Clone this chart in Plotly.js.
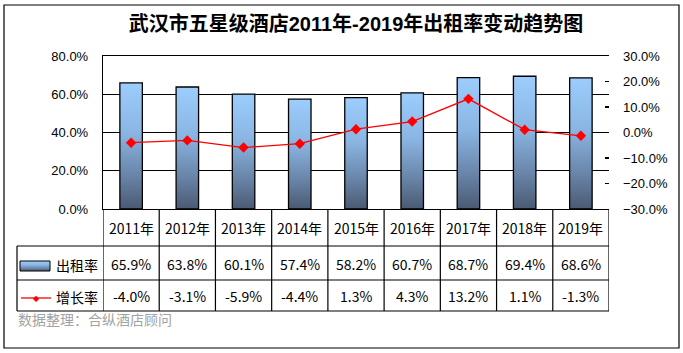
<!DOCTYPE html>
<html><head><meta charset="utf-8">
<script src="https://cdn.plot.ly/plotly-3.0.1.min.js"></script>
<style>body{margin:0;background:#fff}#c{width:683px;height:353px}</style>
</head><body><div id="c"></div>
<script>
const categories = ['2011年','2012年','2013年','2014年','2015年','2016年','2017年','2018年','2019年'];
const occupancy = [65.9, 63.8, 60.1, 57.4, 58.2, 60.7, 68.7, 69.4, 68.6];
const growth = [-4.0, -3.1, -5.9, -4.4, 1.3, 4.3, 13.2, 1.1, -1.3];
const occLabels = ['65.9%','63.8%','60.1%','57.4%','58.2%','60.7%','68.7%','69.4%','68.6%'];
const growthLabels = ['-4.0%','-3.1%','-5.9%','-4.4%','1.3%','4.3%','13.2%','1.1%','-1.3%'];
const seriesNames = ['出租率','增长率'];
const titleText = '武汉市五星级酒店<b style="font-family:Liberation Sans">2011</b>年<b style="font-family:Liberation Sans">-2019</b>年出租率变动趋势图';
const sourceText = '数据整理：合纵酒店顾问';

const idx = categories.map((_, i) => i);
const F = '"Noto Sans CJK SC", "Noto Sans", sans-serif';
const plotH = 153;
const py = px => (209 - px) / plotH;      // pixel y -> paper
const pxX = px => (px - 103) / 506;        // pixel x -> paper

const shapes = [];
shapes.push({type:'rect', xref:'paper', yref:'paper', x0:pxX(4), x1:pxX(679), y0:py(348), y1:py(5), line:{color:'#000', width:1.2}, layer:'below'});
[246, 280, 311].forEach(y => shapes.push({type:'line', xref:'paper', yref:'paper', x0:pxX(17), x1:1, y0:py(y), y1:py(y), line:{color:'#000', width:1.2}}));
shapes.push({type:'line', xref:'paper', yref:'paper', x0:pxX(17), x1:pxX(17), y0:py(246), y1:py(311), line:{color:'#000', width:1.2}});
for (let i = 0; i <= categories.length; i++) {
  shapes.push({type:'line', xref:'x', yref:'paper', x0:i-0.5, x1:i-0.5, y0:0, y1:py(311), line:{color:'#000', width:1.2}});
}
shapes.push({type:'rect', xref:'paper', yref:'paper', x0:pxX(20), x1:pxX(50), y0:py(271), y1:py(261), line:{color:'#000', width:1}, fillcolor:'#7090b8'});
shapes.push({type:'line', xref:'paper', yref:'paper', x0:pxX(21), x1:pxX(51), y0:py(298), y1:py(298), line:{color:'#ff0000', width:1.3}});

const annotations = [];
const ann = (o) => annotations.push(Object.assign({showarrow:false, yanchor:'middle', xanchor:'center'}, o));
categories.forEach((c, i) => {
  ann({x:i, y:py(228), xref:'x', yref:'paper', text:c, font:{family:F, size:14, color:'#000'}});
  ann({x:i, y:py(264), xref:'x', yref:'paper', text:occLabels[i], font:{family:F, size:14, color:'#000'}});
  ann({x:i, y:py(296), xref:'x', yref:'paper', text:growthLabels[i], font:{family:F, size:14, color:'#000'}});
});
ann({x:pxX(54), y:py(265), xref:'paper', yref:'paper', xanchor:'left', text:seriesNames[0], font:{family:F, size:14, color:'#000'}});
ann({x:pxX(54), y:py(297), xref:'paper', yref:'paper', xanchor:'left', text:seriesNames[1], font:{family:F, size:14, color:'#000'}});
ann({x:pxX(36), y:py(298), xref:'paper', yref:'paper', text:'◆', font:{family:'DejaVu Sans', size:8, color:'#ff0000'}});
ann({x:pxX(16), y:py(319), xref:'paper', yref:'paper', xanchor:'left', text:sourceText, font:{family:F, size:14, color:'#a3a3a3'}});

const data = [
  {type:'bar', x:idx, y:occupancy, name:seriesNames[0], width:0.4,
   marker:{color:'#7a9cc6', line:{color:'#000', width:1.3}}, hoverinfo:'skip'},
  {type:'scatter', mode:'lines+markers', x:idx, y:growth, yaxis:'y2', name:seriesNames[1],
   line:{color:'#ff0000', width:1.3}, marker:{symbol:'diamond', size:8, color:'#ff0000'}, hoverinfo:'skip'}
];

const layout = {
  width:683, height:353,
  margin:{l:103, r:74, t:56, b:144},
  paper_bgcolor:'#fff', plot_bgcolor:'#fff',
  showlegend:false,
  title:{text:titleText, x:0.5, xref:'paper', xanchor:'center', y:1-24/353, yanchor:'middle',
         font:{family:F, size:20, color:'#000', weight:'bold'}},
  xaxis:{range:[-0.5, 8.5], showticklabels:false, showgrid:false, zeroline:false,
         showline:true, linecolor:'#000', linewidth:1.2, mirror:true, ticks:'', fixedrange:true},
  yaxis:{range:[0, 80], dtick:20, tickformat:'.1f', ticksuffix:'%', showgrid:true, gridcolor:'#000', gridwidth:1.2,
         zeroline:false, showline:true, linecolor:'#000', linewidth:1.2, ticks:'', ticklabelstandoff:11,
         tickfont:{family:'Liberation Sans, Arial, sans-serif', size:13, color:'#000'}},
  yaxis2:{range:[-30, 30], dtick:10, tickformat:'.1f', ticksuffix:'%', overlaying:'y', side:'right',
          showgrid:false, zeroline:false, showline:false, ticks:'inside', ticklen:4, tickcolor:'#000', tickwidth:1.2,
          ticklabelstandoff:13,
          tickfont:{family:'Liberation Sans, Arial, sans-serif', size:13, color:'#000'}},
  shapes:shapes, annotations:annotations
};

Plotly.newPlot('c', data, layout, {staticPlot:true, displayModeBar:false}).then(gd => {
  const svg = gd.querySelector('svg.main-svg');
  const ns = 'http://www.w3.org/2000/svg';
  let defs = svg.querySelector('defs');
  if (!defs) { defs = document.createElementNS(ns, 'defs'); svg.insertBefore(defs, svg.firstChild); }
  const g = document.createElementNS(ns, 'linearGradient');
  g.setAttribute('id', 'barGrad'); g.setAttribute('x1', '0'); g.setAttribute('y1', '0'); g.setAttribute('x2', '0'); g.setAttribute('y2', '1');
  [['0', '#9ccdfd'], ['0.4', '#8ab5e2'], ['0.75', '#6782a5'], ['1', '#4a5a72']].forEach(([o, c]) => {
    const s = document.createElementNS(ns, 'stop'); s.setAttribute('offset', o); s.setAttribute('stop-color', c); g.appendChild(s);
  });
  defs.appendChild(g);
  gd.querySelectorAll('.barlayer .point path').forEach(p => { p.style.fill = 'url(#barGrad)'; });
  gd.querySelectorAll('.shapelayer path').forEach(p => { if ((p.style.fill || '').replace(/\s/g,'') === 'rgb(112,144,184)') p.style.fill = 'url(#barGrad)'; });
});
</script>
</body></html>
